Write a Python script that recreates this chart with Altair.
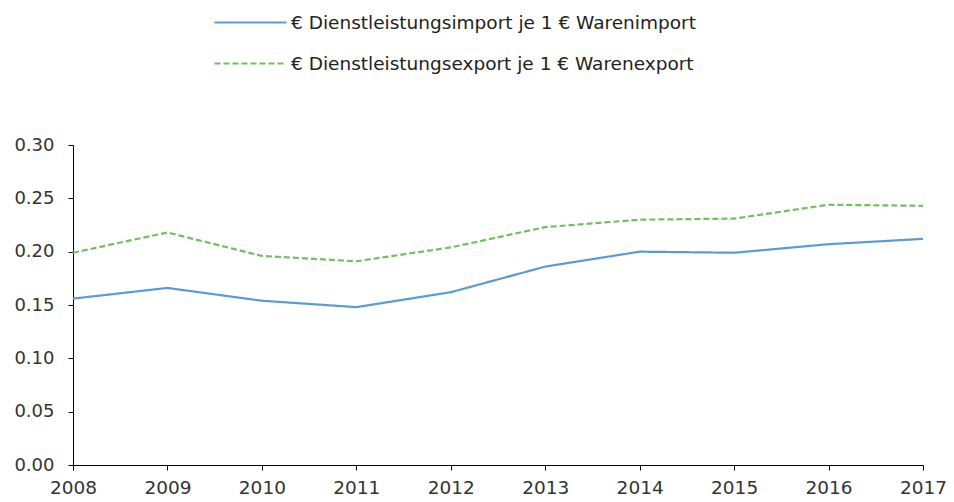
import altair as alt
import pandas as pd

years = [2008, 2009, 2010, 2011, 2012, 2013, 2014, 2015, 2016, 2017]
imports = [0.156, 0.166, 0.154, 0.148, 0.162, 0.186, 0.200, 0.199, 0.207, 0.212]
exports = [0.199, 0.218, 0.196, 0.191, 0.204, 0.223, 0.230, 0.231, 0.244, 0.243]
series = ["€ Dienstleistungsimport je 1 € Warenimport",
          "€ Dienstleistungsexport je 1 € Warenexport"]
colors = ["#5B9BD5", "#72BE62"]
dashes = [[1, 0], [6, 3]]

rows = []
for y, v in zip(years, imports):
    rows.append({"Jahr": y, "Wert": v, "Serie": series[0]})
for y, v in zip(years, exports):
    rows.append({"Jahr": y, "Wert": v, "Serie": series[1]})
df = pd.DataFrame(rows)

FONT = "DejaVu Sans"

legend_cfg = dict(title=None, orient="none", legendX=158, legendY=-142,
                  symbolType="M-2,0L2,0", symbolSize=1296, symbolStrokeWidth=2.2,
                  labelFontSize=18.5, labelColor="#222222", labelFont=FONT,
                  rowPadding=12, labelOffset=21, labelLimit=600)

chart = alt.Chart(df).mark_line(strokeWidth=2.2).encode(
    x=alt.X("Jahr:Q", scale=alt.Scale(domain=[2008, 2017], nice=False, zero=False),
            axis=alt.Axis(values=years, format="d", title=None, grid=False,
                          domainColor="#000000", tickColor="#000000", tickSize=5,
                          labelFontSize=18.5, labelColor="#333333", labelPadding=8,
                          labelFlush=False)),
    y=alt.Y("Wert:Q", scale=alt.Scale(domain=[0, 0.30], nice=False),
            axis=alt.Axis(values=[0, 0.05, 0.10, 0.15, 0.20, 0.25, 0.30], format=".2f",
                          title=None, grid=False, domainColor="#000000",
                          tickColor="#000000", tickSize=5, labelFontSize=18,
                          labelColor="#333333", labelPadding=14)),
    color=alt.Color("Serie:N", scale=alt.Scale(domain=series, range=colors),
                    legend=alt.Legend(**legend_cfg)),
    strokeDash=alt.StrokeDash("Serie:N", scale=alt.Scale(domain=series, range=dashes),
                              legend=alt.Legend(**legend_cfg)),
).properties(
    width=850, height=320,
    autosize=alt.AutoSizeParams(type="none"),
    padding={"left": 65, "top": 137, "right": 23, "bottom": 40},
).configure(font=FONT).configure_view(stroke=None)

chart.save("out.html", embed_options={"renderer": "svg", "actions": False})
